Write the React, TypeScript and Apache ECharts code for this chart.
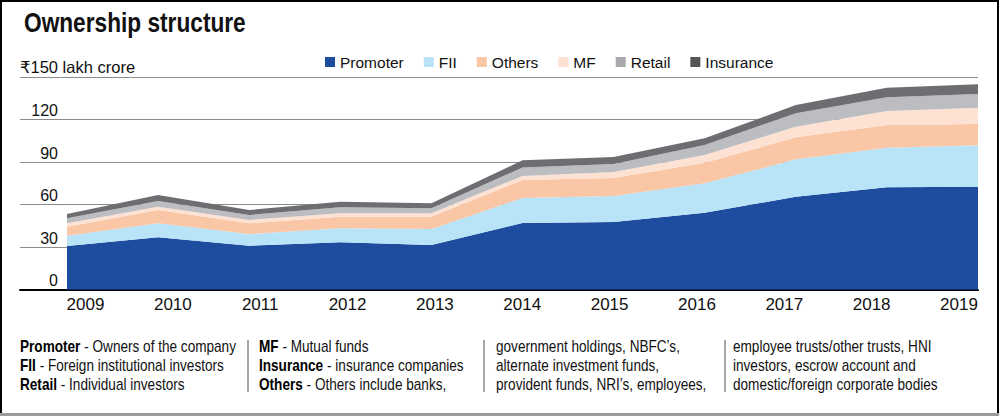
import React, { useEffect, useRef } from 'react';
import * as echarts from 'echarts';

const years = ['2009', '2010', '2011', '2012', '2013', '2014', '2015', '2016', '2017', '2018', '2019'];
const promoter = [30.9, 37.0, 31.1, 33.5, 31.6, 47.1, 47.8, 54.3, 65.6, 72.2, 72.6];
const fii = [7.2, 9.9, 8.2, 9.8, 11.2, 17.6, 18.3, 20.7, 26.3, 27.9, 29.2];
const others = [6.4, 9.3, 7.6, 8.2, 8.7, 12.7, 12.7, 14.6, 15.5, 16.0, 15.0];
const mf = [2.4, 2.4, 2.3, 2.4, 2.4, 2.8, 4.2, 5.4, 7.5, 9.9, 11.5];
const retail = [3.5, 4.0, 3.5, 4.2, 3.5, 6.0, 5.6, 7.0, 9.5, 9.6, 9.7];
const insurance = [3.0, 4.2, 3.5, 4.0, 3.5, 5.0, 5.0, 4.7, 5.8, 6.8, 6.8];

const seriesNames = ['Promoter', 'FII', 'Others', 'MF', 'Retail', 'Insurance'];
const seriesColors = ['#1e4d9f', '#b9e3f7', '#f9c6a6', '#fde2d3', '#bcbdc0', '#6d6e71'];
const legendColors = ['#1e4d9f', '#b9e3f7', '#f9c6a6', '#fde2d3', '#a9aaad', '#555658'];

const yMin = 0;
const yMax = 150;
const yInterval = 30;
const unitLabel = '₹150 lakh crore';
const titleText = 'Ownership structure';

const footerCols = [
  ['{b|Promoter} - Owners of the company', '{b|FII} - Foreign institutional investors', '{b|Retail} - Individual investors'],
  ['{b|MF} - Mutual funds', '{b|Insurance} - insurance companies', '{b|Others} - Others include banks,'],
  ['government holdings, NBFC’s,', 'alternate investment funds,', 'provident funds, NRI’s, employees,'],
  ['employee trusts/other trusts, HNI', 'investors, escrow account and', 'domestic/foreign corporate bodies'],
];

const SANS = "'Liberation Sans', Arial, 'DejaVu Sans', sans-serif";

export default function App() {
  const ref = useRef<HTMLDivElement>(null);

  useEffect(() => {
    document.body.style.margin = '0';
    if (!ref.current) return;
    const chart = echarts.init(ref.current, null, { renderer: 'svg' });
    const values = [promoter, fii, others, mf, retail, insurance];

    const colX = [20, 259, 496, 733];
    const sepX = [248, 484, 725];

    const graphic: any[] = [
      {
        type: 'rect',
        shape: { x: 1, y: 1, width: 997, height: 413 },
        style: { fill: 'none', stroke: '#000', lineWidth: 2 },
        silent: true,
      },
      {
        type: 'line',
        shape: { x1: 0, y1: 414.5, x2: 999, y2: 414.5 },
        style: { stroke: '#9a9a9a', lineWidth: 3 },
        silent: true,
      },
      {
        type: 'text',
        x: 24,
        y: 8,
        scaleX: 0.81,
        style: {
          text: titleText,
          fontFamily: SANS,
          fontSize: 28,
          fontWeight: 'bold',
          fill: '#111',
          align: 'left',
          verticalAlign: 'top',
        },
        silent: true,
      },
      ...sepX.map((x) => ({
        type: 'line',
        shape: { x1: x, y1: 340, x2: x, y2: 392 },
        style: { stroke: '#8a8a8a', lineWidth: 1.5 },
        silent: true,
      })),
      ...footerCols.map((lines, i) => ({
        type: 'text',
        x: colX[i],
        y: 337,
        scaleX: 0.85,
        style: {
          text: lines.join('\n'),
          fontFamily: SANS,
          fontSize: 16,
          lineHeight: 19,
          fill: '#111',
          verticalAlign: 'top',
          align: 'left',
          rich: {
            b: { fontFamily: SANS, fontSize: 16, lineHeight: 19, fontWeight: 'bold', fill: '#000' },
          },
        },
        silent: true,
      })),
    ];

    const gridTop = 76.9;
    const gridBottom = 127.2;

    chart.setOption({
      animation: false,
      legend: {
        left: 325,
        top: 54,
        padding: 0,
        itemWidth: 10,
        itemHeight: 10,
        itemGap: 20,
        icon: 'rect',
        textStyle: { fontFamily: SANS, fontSize: 15.5, color: '#111' },
        data: seriesNames.map((n, i) => ({ name: n, itemStyle: { color: legendColors[i] } })),
      },
      grid: [
        { left: 20, right: 22, top: gridTop, bottom: gridBottom },
        { left: 67, right: 22, top: gridTop, bottom: gridBottom },
        { left: 85.5, right: 41, top: gridTop, bottom: gridBottom },
      ],
      xAxis: [
        {
          gridIndex: 0,
          type: 'value',
          min: 0,
          max: 1,
          axisLine: { show: true, lineStyle: { color: '#000', width: 2 } },
          axisTick: { show: false },
          axisLabel: { show: false },
          splitLine: { show: false },
        },
        {
          gridIndex: 1,
          type: 'category',
          data: years,
          boundaryGap: false,
          show: false,
        },
        {
          gridIndex: 2,
          type: 'category',
          data: years,
          boundaryGap: false,
          axisLine: { show: false },
          axisTick: { show: false },
          splitLine: { show: false },
          axisLabel: { margin: 6, fontFamily: SANS, fontSize: 17, color: '#111', interval: 0 },
        },
      ],
      yAxis: [
        {
          gridIndex: 0,
          type: 'value',
          min: yMin,
          max: yMax,
          interval: yInterval,
          name: unitLabel,
          nameLocation: 'end',
          nameGap: 1,
          nameTextStyle: { align: 'left', verticalAlign: 'bottom', fontFamily: SANS, fontSize: 16.5, color: '#111' },
          axisLine: { show: false },
          axisTick: { show: false },
          splitLine: { show: true, lineStyle: { color: '#8c8c8c', width: 1 } },
          axisLabel: {
            inside: true,
            align: 'right',
            margin: 38,
            verticalAlign: 'bottom',
            padding: [0, 0, 1, 0],
            fontFamily: SANS,
            fontSize: 16,
            color: '#111',
            formatter: (v: number) => (v === yMax ? '' : String(v)),
          },
        },
        { gridIndex: 1, type: 'value', min: yMin, max: yMax, interval: yInterval, show: false },
        { gridIndex: 2, type: 'value', min: yMin, max: yMax, interval: yInterval, show: false },
      ],
      series: seriesNames.map((n, i) => ({
        name: n,
        type: 'line',
        xAxisIndex: 1,
        yAxisIndex: 1,
        stack: 'total',
        data: values[i],
        symbol: 'none',
        showSymbol: false,
        lineStyle: { width: 0 },
        itemStyle: { color: seriesColors[i] },
        areaStyle: { color: seriesColors[i], opacity: 1 },
        z: 3,
      })),
      graphic,
    });

    return () => chart.dispose();
  }, []);

  return (
    <div
      ref={ref}
      style={{ position: 'absolute', left: 0, top: 0, width: 1000, height: 417, background: '#fff' }}
    />
  );
}
